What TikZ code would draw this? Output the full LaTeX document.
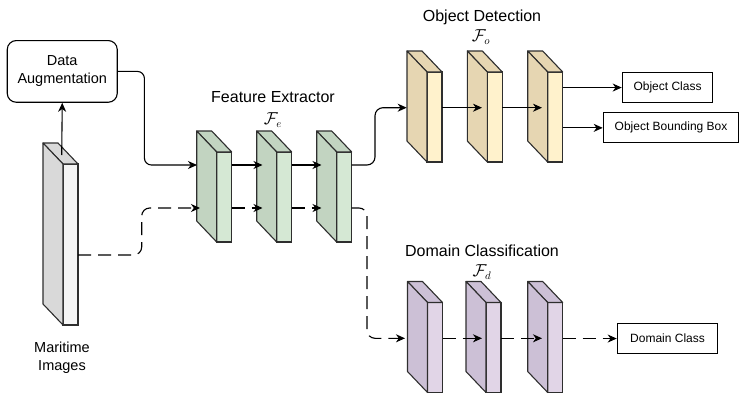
\documentclass[tikz,border=0pt]{standalone}
\usepackage{fontspec}
\setmainfont{Liberation Sans}
\usetikzlibrary{arrows.meta}
\definecolor{edge}{HTML}{2E2E2E}
\definecolor{grayS}{HTML}{D9D9D9}
\definecolor{grayF}{HTML}{F5F5F5}
\definecolor{greenS}{HTML}{C2D4C1}
\definecolor{greenF}{HTML}{D5E8D4}
\definecolor{yellowS}{HTML}{E6D6B2}
\definecolor{yellowF}{HTML}{FFF2CC}
\definecolor{purpleS}{HTML}{CCC0D6}
\definecolor{purpleF}{HTML}{E1D5E7}
\tikzset{
  slabface/.style={draw=edge, line width=1.1pt, minimum width=15, inner sep=0pt, outer sep=0pt, anchor=north west},
  slabedge/.style={draw=edge, line width=1.1pt, line join=round},
  arr/.style={-{Stealth[length=9pt,width=8pt,inset=2.8pt]}, line width=1.1pt, draw=black},
  darr/.style={arr, dash pattern=on 13pt off 7pt},
  outbox/.style={draw=black, line width=1.1pt, inner sep=0pt, anchor=north west, font=\fontsize{12}{14}\selectfont},
  title/.style={font=\fontsize{16}{19}\selectfont},
  mathlab/.style={font=\fontsize{16}{19}\selectfont},
  lab/.style={align=center, font=\fontsize{14.5}{18}\selectfont}
}
\newcommand\myslab[6]{%
  \node[slabface, fill=#6, minimum height=#4] (#1) at (#2,#3) {};
  \draw[slabedge, fill=#5] (#1.north west) -- ++(-20,-21) -- ++(15,0) -- (#1.north east) -- cycle;
  \draw[slabedge, fill=#5] (#1.north west) -- ++(-20,-21) -- ([xshift=-20pt,yshift=21pt]#1.south west) -- (#1.south west) -- cycle;
}
\begin{document}
\begin{tikzpicture}[x=1pt,y=-1pt]
\path[use as bounding box] (0,0) rectangle (739,394);

% levels
\coordinate (ySolid) at (0,165);
\coordinate (yDash) at (0,208);
\coordinate (yObj) at (0,107.7);
\coordinate (yDom) at (0,338.3);
\coordinate (yMd) at (0,255);

% input block and augmentation
\myslab{m}{63}{164}{161}{grayS}{grayF}
\node[draw=black, line width=1.1pt, rounded corners=9, minimum width=110, minimum height=61.7,
      inner sep=0pt, anchor=north west, lab] (da) at (6.7,40) {Data\\Augmentation};
\node[lab] (mlab) at (62,358) {Maritime\\Images};

% feature extractor
\myslab{g1}{216.7}{152}{90}{greenS}{greenF}
\myslab{g2}{276.7}{152}{90}{greenS}{greenF}
\myslab{g3}{336.7}{152}{90}{greenS}{greenF}
\node[title] (tfe) at (273,97) {Feature Extractor};
\node[mathlab] (mfe) at (273,120) {$\mathcal{F}_e$};

% object detection
\myslab{o1}{427}{72}{90}{yellowS}{yellowF}
\myslab{o2}{487.3}{72}{90}{yellowS}{yellowF}
\myslab{o3}{547.7}{72}{90}{yellowS}{yellowF}
\node[title] (tod) at (482,17) {Object Detection};
\node[mathlab] (mod) at (481,37) {$\mathcal{F}_o$};
\node[outbox, minimum width=90.6, minimum height=29.4] (oc) at (621.7,72.3) {Object Class};
\node[outbox, minimum width=135.6, minimum height=30] (obb) at (602.7,112.3) {Object Bounding Box};

% domain classification
\myslab{p1}{427.5}{302.5}{90}{purpleS}{purpleF}
\myslab{p2}{486}{302.5}{90}{purpleS}{purpleF}
\myslab{p3}{547.7}{302.5}{90}{purpleS}{purpleF}
\node[title] (tdc) at (482,251) {Domain Classification};
\node[mathlab] (mdc) at (482,272) {$\mathcal{F}_d$};
\node[outbox, minimum width=100.6, minimum height=30.6] (dc) at (616.7,322.7) {Domain Class};

% arrow tip coordinates
\coordinate (g1in) at (197,165);
\coordinate (g1din) at (200,208);
\coordinate (g2in) at (262.5,165);
\coordinate (g2din) at (262.5,208);
\coordinate (g3in) at (321.5,165);
\coordinate (g3din) at (321.5,208);
\coordinate (o1in) at (406.7,107.7);
\coordinate (o2in) at (482,107.7);
\coordinate (o3in) at (542,107.7);
\coordinate (p1in) at (405,338.3);
\coordinate (p2in) at (482,338.3);
\coordinate (p3in) at (542,338.3);
\coordinate (mtop) at (61.7,155);

% connectors
\draw[arr] (mtop) -- (da.south);
\draw[arr, rounded corners=7] (da.east) -- ++(26.6,0) |- (g1in);
\draw[darr, rounded corners=8] (m.east |- yMd) -- (141.7,255) |- (g1din);

\draw[arr] (g1.east |- ySolid) -- (g2in);
\draw[arr] (g2.east |- ySolid) -- (g3in);
\draw[darr] (g1.east |- yDash) -- (g2din);
\draw[darr] (g2.east |- yDash) -- (g3din);

\draw[arr, rounded corners=8] (g3.east |- ySolid) -- (375,165) |- (o1in);
\draw[darr, rounded corners=8] (g3.east |- yDash) -- (367,208) |- (p1in);

\draw[arr] (o1.east |- yObj) -- (o2in);
\draw[arr] (o2.east |- yObj) -- (o3in);
\draw[arr] (o3.east |- oc) -- (oc.west);
\draw[arr] (o3.east |- obb) -- (obb.west);

\draw[darr] (p1.east |- yDom) -- (p2in);
\draw[darr] (p2.east |- yDom) -- (p3in);
\draw[darr] (p3.east |- dc) -- (dc.west);
\end{tikzpicture}
\end{document}
